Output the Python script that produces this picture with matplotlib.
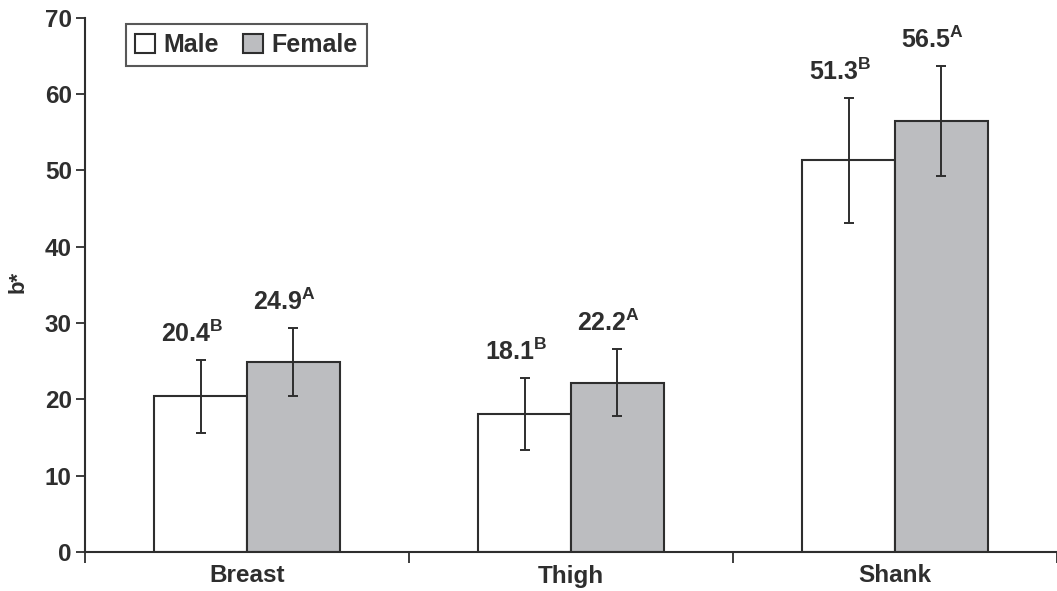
import matplotlib
matplotlib.use('Agg')
import matplotlib.pyplot as plt
import numpy as np

# data
categories = ['Breast', 'Thigh', 'Shank']
male_mean = [20.4, 18.1, 51.3]
female_mean = [24.9, 22.2, 56.5]
male_err = [4.8, 4.7, 8.2]
female_err = [4.5, 4.4, 7.2]
male_letter = ['B', 'B', 'B']
female_letter = ['A', 'A', 'A']

ink = '#2e2e2e'
grey = '#bcbdc0'

plt.rcParams['font.family'] = ['Liberation Sans', 'DejaVu Sans']
plt.rcParams['font.weight'] = 'bold'
plt.rcParams['mathtext.fontset'] = 'custom'
plt.rcParams['mathtext.bf'] = 'Liberation Sans:bold'
plt.rcParams['mathtext.rm'] = 'Liberation Sans:bold'

fig = plt.figure(figsize=(10.57, 5.91), dpi=100)
ax = fig.add_axes([85 / 1057, 39 / 591, 1 - 85 / 1057, 534.4 / 591])

x = np.arange(len(categories))
w = 0.286

ax.bar(x - w / 2, male_mean, w, color='white', edgecolor=ink, linewidth=1.5,
       label='Male', zorder=2)
ax.bar(x + w / 2, female_mean, w, color=grey, edgecolor=ink, linewidth=1.5,
       label='Female', zorder=2)
ax.errorbar(x - w / 2, male_mean, yerr=male_err, fmt='none', ecolor=ink,
            elinewidth=1.4, capsize=3.4, capthick=1.4, zorder=3)
ax.errorbar(x + w / 2, female_mean, yerr=female_err, fmt='none', ecolor=ink,
            elinewidth=1.4, capsize=3.4, capthick=1.4, zorder=3)

# value labels with significance letters
for xs, means, errs, letters in [(x - w / 2, male_mean, male_err, male_letter),
                                 (x + w / 2, female_mean, female_err, female_letter)]:
    for xi, m, e, l in zip(xs, means, errs, letters):
        ax.annotate(r'$\mathbf{%.1f^{%s}}$' % (m, l), (xi, m + e),
                    xytext=(-6, 9), textcoords='offset points',
                    ha='center', va='bottom', fontsize=18, color=ink)

ax.set_xlim(-0.5, 2.471)
ax.set_ylim(0, 70)
ax.set_yticks(range(0, 71, 10))
ax.set_xticks([-0.5, 0.5, 1.5, 2.5])
ax.set_xticklabels([])
ax.set_xticks(x, minor=True)
ax.set_xticklabels(categories, minor=True)
ax.tick_params(axis='x', which='major', direction='out', length=8, width=1.3, color=ink)
ax.tick_params(axis='x', which='minor', length=0, pad=9, labelsize=17.5, labelcolor=ink)
ax.tick_params(axis='y', direction='out', length=6.5, width=1.3, color=ink,
               pad=3, labelsize=17.5, labelcolor=ink)

for s in ['top', 'right']:
    ax.spines[s].set_visible(False)
for s in ['left', 'bottom']:
    ax.spines[s].set_color(ink)
    ax.spines[s].set_linewidth(1.5)

ax.set_ylabel('b*', fontsize=16, fontweight='bold', color=ink)
ax.yaxis.set_label_coords(-0.058, 0.505)

leg = ax.legend(loc='upper left', bbox_to_anchor=(0.0422, 0.988), ncol=2,
                fontsize=18, frameon=True, fancybox=False, handlelength=0.8,
                handleheight=0.8, handletextpad=0.35, columnspacing=0.95,
                borderpad=0.35, borderaxespad=0)
leg.get_frame().set_edgecolor(ink)
leg.get_frame().set_linewidth(1.5)
for t in leg.get_texts():
    t.set_color(ink)

fig.savefig('out.png', dpi=100)
